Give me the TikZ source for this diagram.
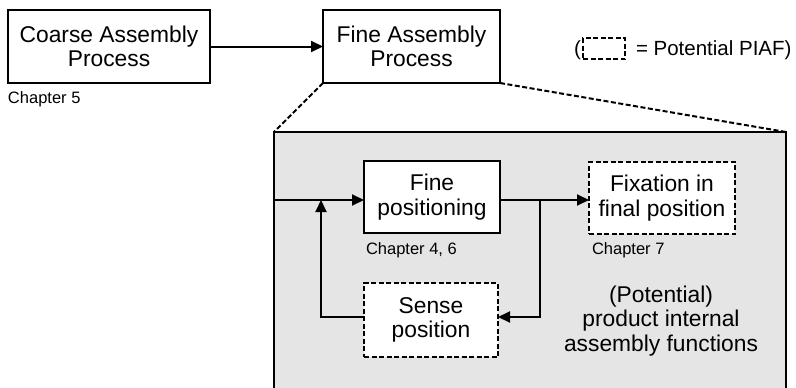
\documentclass[tikz,border=0pt]{standalone}
\usepackage{fontspec}
\setmainfont{Liberation Sans}
\usetikzlibrary{arrows.meta}
\newcommand\boxfs{\fontsize{22.8}{24.5}\selectfont}
\newcommand\notefs{\fontsize{16.5}{19}\selectfont}
\newcommand\legendfs{\fontsize{20.5}{23}\selectfont}
\begin{document}
\begin{tikzpicture}[x=1pt,y=-1pt,
  every node/.style={inner sep=0pt, outer sep=0pt},
  stagebox/.style={draw, line width=2pt, fill=white, align=center, font=\boxfs},
  piafbox/.style={stagebox, dash pattern=on 5pt off 2.5pt},
  flow/.style={line width=2pt, -{Triangle[length=12pt,width=11pt]}},
  zoomline/.style={line width=2pt, dash pattern=on 5pt off 2.5pt},
  note/.style={font=\notefs, anchor=base west},
]
\useasboundingbox (0,0) rectangle (796,388);
\clip (0,0) rectangle (796,388);

% shaded detail panel (runs past the lower edge)
\node (panel) [draw, line width=2pt, fill=black!10, anchor=north west,
  minimum width=512pt, minimum height=290pt] at (274,132) {};

% top-level process chain
\node (coarse) [stagebox, minimum width=202pt, minimum height=73pt] at (109,46.5)
  {Coarse Assembly\\Process};
\node (fineasm) [stagebox, minimum width=177pt, minimum height=73pt] at (411.5,46.5)
  {Fine Assembly\\Process};
\node (ch5) [note] at (8,103) {Chapter 5};
\draw[flow] (coarse) -- (fineasm);

% zoom lines from the fine assembly process to the panel
\draw[zoomline] (fineasm.south west) -- (panel.north west);
\draw[zoomline] (fineasm.south east) -- (panel.north east);

% legend
\node (legicon) [draw, line width=2pt, dash pattern=on 5pt off 2.5pt,
  minimum width=42pt, minimum height=21pt] at (604,48.5) {};
\node (legopen) [font=\legendfs, anchor=base east] at (581,56) {(};
\node (legtext) [font=\legendfs, anchor=base west] at (636,56) {= Potential PIAF)};

% functions inside the panel
\node (finepos) [stagebox, minimum width=136pt, minimum height=72pt] at (432,197)
  {Fine\\positioning};
\node (fixation) [piafbox, minimum width=146pt, minimum height=72pt] at (662,198)
  {Fixation in\\final position};
\node (sense) [piafbox, minimum width=134pt, minimum height=74pt] at (431,320)
  {Sense\\position};
\node (ch46) [note] at (366,254) {Chapter 4, 6};
\node (ch7) [note] at (592,254) {Chapter 7};
\node (piaf) [font=\boxfs, align=center] at (661,321)
  {(Potential)\\product internal\\assembly functions};

% control loop
\coordinate (entry) at (274,200);
\coordinate (merge) at (321,200);
\coordinate (split) at (540,200);
\coordinate (loopl) at (321,317);
\coordinate (loopr) at (540,317);
\draw[flow] (entry) -- (finepos.west |- entry);
\draw[flow] (finepos.east |- split) -- (fixation.west |- split);
\draw[flow] (split) -- (loopr) -- (sense.east |- loopr);
\draw[flow] (sense.west |- loopl) -- (loopl) -- (merge);
\end{tikzpicture}
\end{document}
